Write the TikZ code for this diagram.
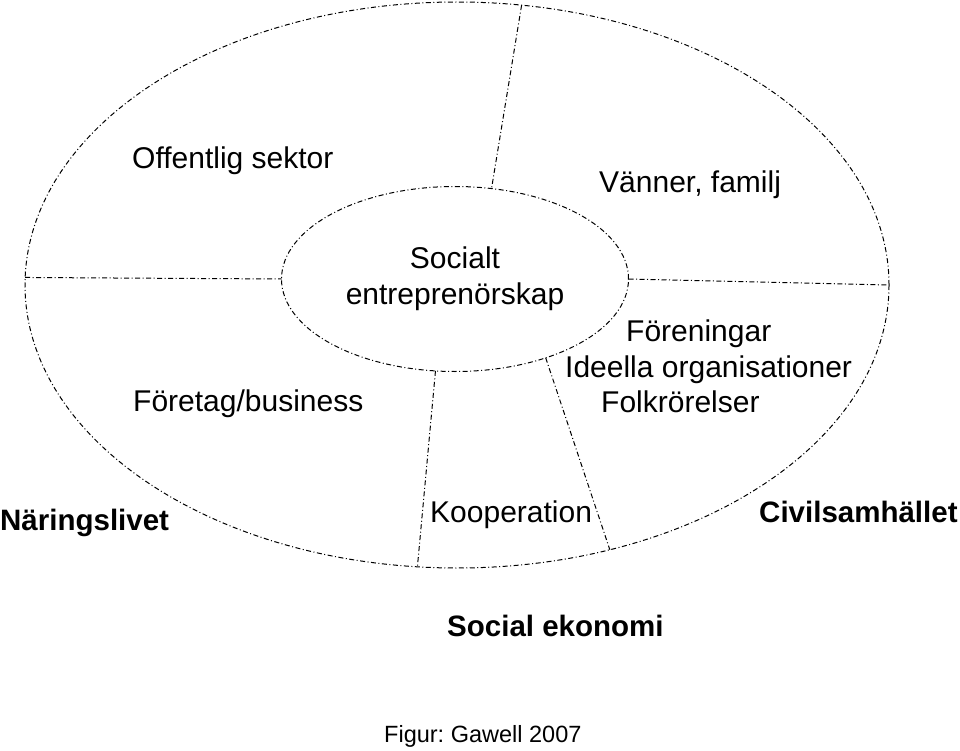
\documentclass[tikz,border=0pt]{standalone}
\usepackage{fontspec}
\setmainfont{Liberation Sans}
\usetikzlibrary{shapes.geometric}
\begin{document}
\begin{tikzpicture}[x=1pt, y=-1pt,
    ring/.style={draw, ellipse, line width=1pt, dash pattern=on 5pt off 2.5pt on 1pt off 2.5pt, inner sep=0pt, outer sep=0pt},
    divider/.style={line width=1pt, dash pattern=on 5pt off 2.5pt on 1pt off 2.5pt},
    lbl/.style={anchor=base west, inner sep=0pt, font=\fontsize{30}{36}\selectfont},
    head/.style={lbl, font=\fontsize{29.5}{36}\selectfont\bfseries}]
    \useasboundingbox (0,0) rectangle (960,751);

    % Ellipses
    \node[ring, minimum width=864pt, minimum height=566pt] (outer) at (457,285) {};
    \node[ring, minimum width=347pt, minimum height=185pt, align=center, font=\fontsize{30}{36}\selectfont] (inner) at (455,279) {Socialt\\entreprenörskap};

    % Dividers
    \draw[divider] (outer.77) -- (inner.68);
    \draw[divider] (outer.179) -- (inner.180);
    \draw[divider] (inner.0) -- (outer.0);
    \draw[divider] (inner.258) -- (outer.262);
    \draw[divider] (inner.-41) -- (outer.-60);

    % Sector labels
    \node[lbl] (public) at (132,169) {Offentlig sektor};
    \node[lbl] (friends) at (599,193) {Vänner, familj};
    \node[lbl] (assoc) at (626,341) {Föreningar};
    \node[lbl] (nonprofit) at (565,377) {Ideella organisationer};
    \node[lbl] (movements) at (601,412) {Folkrörelser};
    \node[lbl] (business) at (133,411) {Företag/business};
    \node[lbl] (coop) at (430,522) {Kooperation};

    % Headings below
    \node[head] (trade) at (0,530) {Näringslivet};
    \node[head] (civil) at (759,522) {Civilsamhället};
    \node[head] (socecon) at (447,636) {Social ekonomi};
    \node[lbl, font=\fontsize{23.5}{28}\selectfont] (source) at (384,742) {Figur:\ Gawell 2007};
\end{tikzpicture}
\end{document}
